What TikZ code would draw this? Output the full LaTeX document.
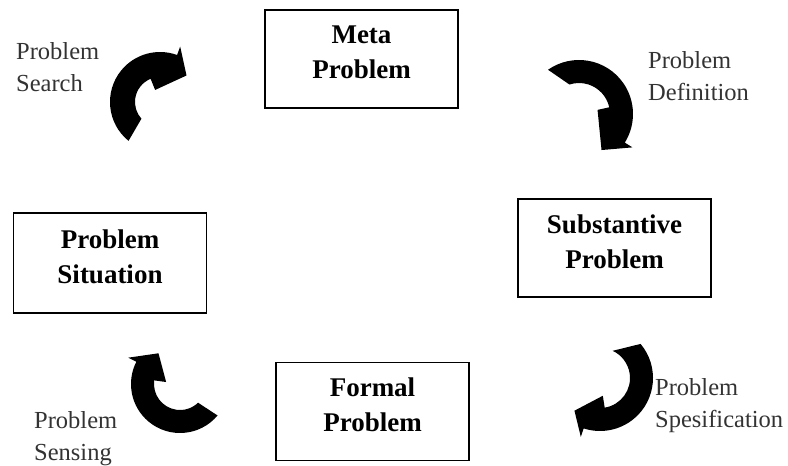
\documentclass[tikz,border=0pt]{standalone}
\usepackage{fontspec}
\setmainfont{Liberation Serif}
\begin{document}
\begin{tikzpicture}[x=1pt,y=1pt,
  stage/.style={draw, line width=1.3pt, minimum width=193pt, minimum height=98pt, align=center, inner sep=0pt, font=\fontsize{27}{35}\selectfont\bfseries},
  phase/.style={anchor=north west, align=left, inner sep=0pt, text=black!80, font=\fontsize{24.5}{32}\selectfont}]
\useasboundingbox (0,0) rectangle (788,466);
\node[stage] (meta) at (361.5,407) {Meta\\Problem\rule[-13pt]{0pt}{13pt}};
\node[stage] (subst) at (614.5,218) {Substantive\\Problem\rule[-13pt]{0pt}{13pt}};
\node[stage] (formal) at (372.5,54.5) {Formal\\Problem\rule[-13pt]{0pt}{13pt}};
\node[stage, minimum height=100pt] (situ) at (110,203) {Problem\\Situation\rule[-13pt]{0pt}{13pt}};
\node[phase] (search) at (16,423.7) {Problem\\Search};
\node[phase] (defin) at (648,414.7) {Problem\\Definition};
\node[phase] (spesif) at (655,87.7) {Problem\\Spesification};
\node[phase] (sensing) at (34,54.7) {Problem\\Sensing};
\foreach \cx/\cy/\ri/\ro/\oa/\ia/\ob/\ib/\tp in {160/364/25/50/231/222/70/112/45, 579/352/31/54/125/108/-32/12.5/-58, 600/88/30/53/40/65/-108/-81/-128, 180/82/26/49/-40/-46/-207/-188/-235} % edit here for the curved arrows
{
\coordinate (hub) at (\cx,\cy);
\fill ([shift={(\oa:\ro)}]hub) arc[start angle=\oa, end angle=\ob, radius=\ro] -- ([shift={(\ob:{\ro+9})}]hub) -- ([shift={(\tp:{(\ri+\ro)/2})}]hub) -- ([shift={(\ib:{\ri-12})}]hub) -- ([shift={(\ib:\ri)}]hub) arc[start angle=\ib, end angle=\ia, radius=\ri] -- cycle;
}
\end{tikzpicture}
\end{document}
